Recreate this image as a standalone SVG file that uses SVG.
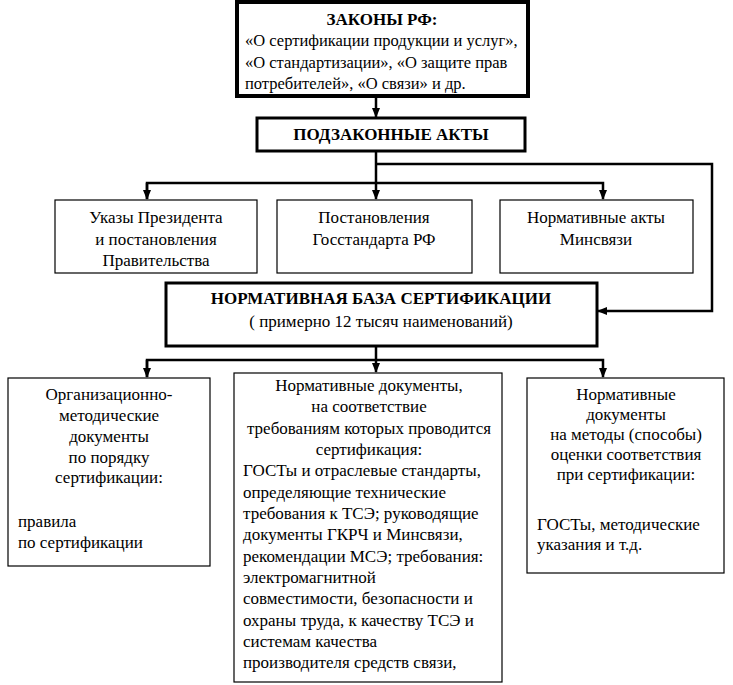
<svg xmlns="http://www.w3.org/2000/svg" width="733" height="685" viewBox="0 0 733 685">
<defs>
<marker id="ah" markerWidth="10" markerHeight="10" refX="9" refY="5" orient="auto" markerUnits="userSpaceOnUse">
<path d="M0,1 L10,5 L0,9 Z" fill="#000"/>
</marker>
</defs>
<rect width="733" height="685" fill="#fff"/>
<g id="connectors" fill="none" stroke="#000" stroke-width="2.5">
<path d="M376,96 V117" marker-end="url(#ah)"/>
<path d="M376,151 V199" marker-end="url(#ah)"/>
<path d="M376,164 H712 V311 H598" marker-end="url(#ah)"/>
<path d="M147,199 V183 H603 V199" marker-end="url(#ah)"/>
<path d="M147,183 V199" marker-end="url(#ah)"/>
<path d="M376,346 V372" marker-end="url(#ah)"/>
<path d="M147,377 V360 H603 V377" marker-end="url(#ah)"/>
<path d="M147,360 V377" marker-end="url(#ah)"/>
</g>
<g id="laws">
<rect x="237" y="2" width="291" height="94" fill="#fff" stroke="#000" stroke-width="4"/>
<text x="382" y="25" font-family="Liberation Serif, Times New Roman, serif" style="font-family:'Liberation Serif','Times New Roman',serif" font-size="17" font-weight="bold" text-anchor="middle">ЗАКОНЫ РФ:</text>
<text x="245" y="46" font-family="Liberation Serif, Times New Roman, serif" style="font-family:'Liberation Serif','Times New Roman',serif" font-size="16.5">«О сертификации продукции и услуг»,</text>
<text x="245" y="68" font-family="Liberation Serif, Times New Roman, serif" style="font-family:'Liberation Serif','Times New Roman',serif" font-size="16.5">«О стандартизации», «О защите прав</text>
<text x="245" y="89" font-family="Liberation Serif, Times New Roman, serif" style="font-family:'Liberation Serif','Times New Roman',serif" font-size="16.5">потребителей», «О связи» и др.</text>
</g>
<g id="bylaws">
<rect x="257" y="118" width="268" height="33" fill="#fff" stroke="#000" stroke-width="3"/>
<text x="391" y="140" font-family="Liberation Serif, Times New Roman, serif" style="font-family:'Liberation Serif','Times New Roman',serif" font-size="17" font-weight="bold" text-anchor="middle">ПОДЗАКОННЫЕ АКТЫ</text>
</g>
<g id="decrees">
<rect x="55" y="200" width="202" height="73" fill="#fff" stroke="#000" stroke-width="1.2"/>
<text x="156" y="223" font-family="Liberation Serif, Times New Roman, serif" style="font-family:'Liberation Serif','Times New Roman',serif" font-size="17" text-anchor="middle">Указы Президента</text>
<text x="156" y="245" font-family="Liberation Serif, Times New Roman, serif" style="font-family:'Liberation Serif','Times New Roman',serif" font-size="17" text-anchor="middle">и постановления</text>
<text x="156" y="266" font-family="Liberation Serif, Times New Roman, serif" style="font-family:'Liberation Serif','Times New Roman',serif" font-size="17" text-anchor="middle">Правительства</text>
</g>
<g id="gosstandart">
<rect x="277" y="200" width="195" height="73" fill="#fff" stroke="#000" stroke-width="1.2"/>
<text x="374" y="223" font-family="Liberation Serif, Times New Roman, serif" style="font-family:'Liberation Serif','Times New Roman',serif" font-size="17" text-anchor="middle">Постановления</text>
<text x="374" y="245" font-family="Liberation Serif, Times New Roman, serif" style="font-family:'Liberation Serif','Times New Roman',serif" font-size="17" text-anchor="middle">Госстандарта РФ</text>
</g>
<g id="minsvyaz">
<rect x="500" y="200" width="193" height="73" fill="#fff" stroke="#000" stroke-width="1.2"/>
<text x="596" y="223" font-family="Liberation Serif, Times New Roman, serif" style="font-family:'Liberation Serif','Times New Roman',serif" font-size="17" text-anchor="middle">Нормативные акты</text>
<text x="596" y="245" font-family="Liberation Serif, Times New Roman, serif" style="font-family:'Liberation Serif','Times New Roman',serif" font-size="17" text-anchor="middle">Минсвязи</text>
</g>
<g id="base">
<rect x="166" y="283" width="431" height="63" fill="#fff" stroke="#000" stroke-width="3"/>
<text x="381" y="304" font-family="Liberation Serif, Times New Roman, serif" style="font-family:'Liberation Serif','Times New Roman',serif" font-size="17" font-weight="bold" text-anchor="middle">НОРМАТИВНАЯ БАЗА СЕРТИФИКАЦИИ</text>
<text x="381" y="327" font-family="Liberation Serif, Times New Roman, serif" style="font-family:'Liberation Serif','Times New Roman',serif" font-size="17" text-anchor="middle">( примерно 12 тысяч наименований)</text>
</g>
<g id="orgmethod">
<rect x="8" y="378" width="202" height="188" fill="#fff" stroke="#000" stroke-width="1.2"/>
<text x="109" y="400" font-family="Liberation Serif, Times New Roman, serif" style="font-family:'Liberation Serif','Times New Roman',serif" font-size="17" text-anchor="middle">Организационно-</text>
<text x="109" y="421" font-family="Liberation Serif, Times New Roman, serif" style="font-family:'Liberation Serif','Times New Roman',serif" font-size="17" text-anchor="middle">методические</text>
<text x="109" y="442" font-family="Liberation Serif, Times New Roman, serif" style="font-family:'Liberation Serif','Times New Roman',serif" font-size="17" text-anchor="middle">документы</text>
<text x="109" y="463" font-family="Liberation Serif, Times New Roman, serif" style="font-family:'Liberation Serif','Times New Roman',serif" font-size="17" text-anchor="middle">по порядку</text>
<text x="109" y="483" font-family="Liberation Serif, Times New Roman, serif" style="font-family:'Liberation Serif','Times New Roman',serif" font-size="17" text-anchor="middle">сертификации:</text>
<text x="18" y="527" font-family="Liberation Serif, Times New Roman, serif" style="font-family:'Liberation Serif','Times New Roman',serif" font-size="17">правила</text>
<text x="18" y="548" font-family="Liberation Serif, Times New Roman, serif" style="font-family:'Liberation Serif','Times New Roman',serif" font-size="17">по сертификации</text>
</g>
<g id="requirements">
<rect x="234" y="373" width="268" height="309" fill="#fff" stroke="#000" stroke-width="1.2"/>
<text x="369" y="391" font-family="Liberation Serif, Times New Roman, serif" style="font-family:'Liberation Serif','Times New Roman',serif" font-size="17" text-anchor="middle">Нормативные документы,</text>
<text x="369" y="412" font-family="Liberation Serif, Times New Roman, serif" style="font-family:'Liberation Serif','Times New Roman',serif" font-size="17" text-anchor="middle">на соответствие</text>
<text x="369" y="434" font-family="Liberation Serif, Times New Roman, serif" style="font-family:'Liberation Serif','Times New Roman',serif" font-size="17" text-anchor="middle">требованиям которых проводится</text>
<text x="369" y="455" font-family="Liberation Serif, Times New Roman, serif" style="font-family:'Liberation Serif','Times New Roman',serif" font-size="17" text-anchor="middle">сертификация:</text>
<text x="243" y="476" font-family="Liberation Serif, Times New Roman, serif" style="font-family:'Liberation Serif','Times New Roman',serif" font-size="17">ГОСТы и отраслевые стандарты,</text>
<text x="243" y="498" font-family="Liberation Serif, Times New Roman, serif" style="font-family:'Liberation Serif','Times New Roman',serif" font-size="17">определяющие технические</text>
<text x="243" y="519" font-family="Liberation Serif, Times New Roman, serif" style="font-family:'Liberation Serif','Times New Roman',serif" font-size="17">требования  к ТСЭ; руководящие</text>
<text x="243" y="540" font-family="Liberation Serif, Times New Roman, serif" style="font-family:'Liberation Serif','Times New Roman',serif" font-size="17">документы ГКРЧ и Минсвязи,</text>
<text x="243" y="562" font-family="Liberation Serif, Times New Roman, serif" style="font-family:'Liberation Serif','Times New Roman',serif" font-size="17">рекомендации МСЭ; требования:</text>
<text x="243" y="583" font-family="Liberation Serif, Times New Roman, serif" style="font-family:'Liberation Serif','Times New Roman',serif" font-size="17">электромагнитной</text>
<text x="243" y="604" font-family="Liberation Serif, Times New Roman, serif" style="font-family:'Liberation Serif','Times New Roman',serif" font-size="17">совместимости, безопасности и</text>
<text x="243" y="626" font-family="Liberation Serif, Times New Roman, serif" style="font-family:'Liberation Serif','Times New Roman',serif" font-size="17">охраны труда, к качеству ТСЭ и</text>
<text x="243" y="647" font-family="Liberation Serif, Times New Roman, serif" style="font-family:'Liberation Serif','Times New Roman',serif" font-size="17">системам качества</text>
<text x="243" y="668" font-family="Liberation Serif, Times New Roman, serif" style="font-family:'Liberation Serif','Times New Roman',serif" font-size="17">производителя средств связи,</text>
</g>
<g id="methods">
<rect x="527" y="378" width="197" height="195" fill="#fff" stroke="#000" stroke-width="1.2"/>
<text x="626" y="400" font-family="Liberation Serif, Times New Roman, serif" style="font-family:'Liberation Serif','Times New Roman',serif" font-size="17" text-anchor="middle">Нормативные</text>
<text x="626" y="420" font-family="Liberation Serif, Times New Roman, serif" style="font-family:'Liberation Serif','Times New Roman',serif" font-size="17" text-anchor="middle">документы</text>
<text x="626" y="440" font-family="Liberation Serif, Times New Roman, serif" style="font-family:'Liberation Serif','Times New Roman',serif" font-size="17" text-anchor="middle">на методы (способы)</text>
<text x="626" y="460" font-family="Liberation Serif, Times New Roman, serif" style="font-family:'Liberation Serif','Times New Roman',serif" font-size="17" text-anchor="middle">оценки соответствия</text>
<text x="626" y="480" font-family="Liberation Serif, Times New Roman, serif" style="font-family:'Liberation Serif','Times New Roman',serif" font-size="17" text-anchor="middle">при сертификации:</text>
<text x="537" y="530" font-family="Liberation Serif, Times New Roman, serif" style="font-family:'Liberation Serif','Times New Roman',serif" font-size="17">ГОСТы, методические</text>
<text x="537" y="550" font-family="Liberation Serif, Times New Roman, serif" style="font-family:'Liberation Serif','Times New Roman',serif" font-size="17">указания и т.д.</text>
</g>
</svg>
